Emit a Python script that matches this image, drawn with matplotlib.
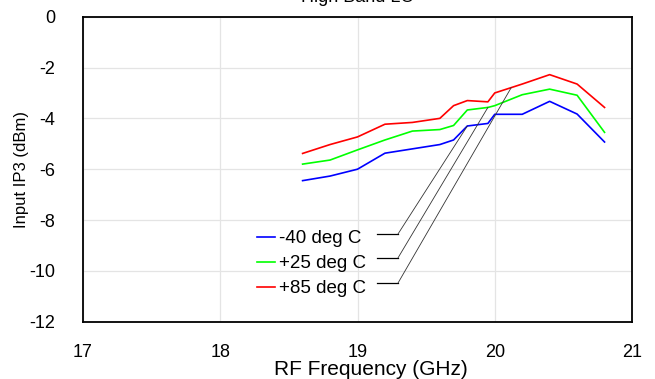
import numpy as np
import matplotlib
matplotlib.use("Agg")
import matplotlib.pyplot as plt

plt.rcParams['font.family'] = ['Liberation Sans', 'DejaVu Sans']

# RF frequency (GHz) and input IP3 (dBm)
freq = [18.6, 18.8, 19.0, 19.2, 19.4, 19.6, 19.7, 19.8, 19.95, 20.0, 20.2, 20.4, 20.6, 20.8]
ip3_m40 = [-6.45, -6.27, -6.0, -5.37, -5.2, -5.03, -4.85, -4.3, -4.2, -3.84, -3.84, -3.33, -3.83, -4.93]
ip3_p25 = [-5.8, -5.64, -5.24, -4.85, -4.5, -4.44, -4.28, -3.67, -3.57, -3.5, -3.07, -2.85, -3.09, -4.55]
ip3_p85 = [-5.38, -5.03, -4.73, -4.23, -4.16, -4.0, -3.5, -3.3, -3.35, -3.0, -2.65, -2.28, -2.65, -3.57]
labels = ["-40 deg C", "+25 deg C", "+85 deg C"]
colors = ["#0000ff", "#00ff00", "#ff0000"]

xticks = [17, 18, 19, 20, 21]
yticks = [0, -2, -4, -6, -8, -10, -12]

fig = plt.figure(figsize=(6.55, 3.79), dpi=100)
ax = fig.add_axes([83/655, 1-321.7/379, (632-83)/655, (321.7-16.7)/379])

series = [ip3_m40, ip3_p25, ip3_p85]
for s, lab, c in zip(series, labels, colors):
    ax.plot(freq, s, color=c, lw=1.2, label=lab)

ax.set_xlim(17, 21)
ax.set_ylim(-12, 0)
ax.set_xticks(xticks)
ax.set_yticks(yticks)
ax.set_yticklabels([str(t) for t in yticks])
ax.grid(True, color="#e4e4e4", lw=0.9)
ax.set_axisbelow(True)
ax.tick_params(length=0, labelsize=13)
ax.tick_params(axis='y', pad=20)
ax.tick_params(axis='x', pad=16)
for sp in ax.spines.values():
    sp.set_linewidth(1.3)
    sp.set_color("black")

ax.set_xlabel("RF Frequency (GHz)", fontsize=15, labelpad=-1)
ax.xaxis.set_label_coords(0.525, -0.125)
ax.set_ylabel("Input IP3 (dBm)", fontsize=12, labelpad=0)

leg = ax.legend(loc="upper left", bbox_to_anchor=(0.317, 0.30), frameon=False,
                fontsize=13.5, handlelength=0.95, handletextpad=0.2,
                labelspacing=0.42, borderpad=0, borderaxespad=0)

# leader lines from legend rows to the curves
row_y = [-8.55, -9.49, -10.48]
ends = [(freq[7], ip3_m40[7]), (freq[8], ip3_p25[8]),
        (20.12, float(np.interp(20.12, freq, ip3_p85)))]
for y0, (xe, ye) in zip(row_y, ends):
    ax.plot([19.14, 19.295], [y0, y0], color="black", lw=0.9)
    ax.plot([19.295, xe], [y0, ye], color="#333333", lw=0.6)

fig.text((83+632)/2/655, 1-2/379, "High Band LO", ha="center", va="baseline", fontsize=13)

fig.savefig("out.png", dpi=100)
